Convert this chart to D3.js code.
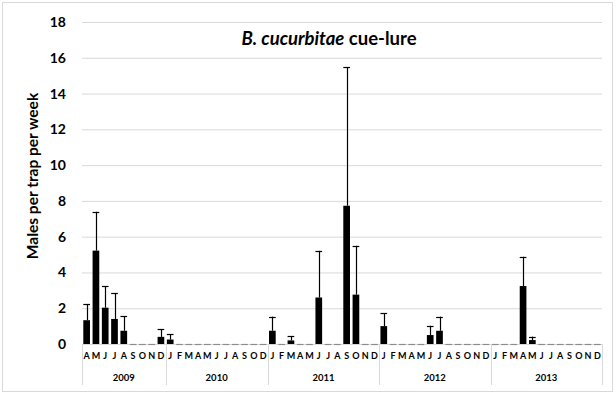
<!DOCTYPE html>
<html>
<head>
<meta charset="utf-8">
<script src="https://cdn.jsdelivr.net/npm/d3@7/dist/d3.min.js"></script>
<style>
  body { margin: 0; background: #fff; }
  svg text { font-family: Lato, "Open Sans", sans-serif; font-weight: bold; fill: #000; }
</style>
</head>
<body>
<svg id="chart"></svg>
<script>
// Categories: one year label per block, month initials per year
const years = ['2009', '2010', '2011', '2012', '2013'];
const monthsByYear = [
  ['A', 'M', 'J', 'J', 'A', 'S', 'O', 'N', 'D'],
  ['J', 'F', 'M', 'A', 'M', 'J', 'J', 'A', 'S', 'O', 'D'],
  ['J', 'F', 'M', 'A', 'M', 'J', 'J', 'A', 'S', 'O', 'N', 'D'],
  ['J', 'F', 'M', 'A', 'M', 'J', 'J', 'A', 'S', 'O', 'N', 'D'],
  ['J', 'F', 'M', 'A', 'M', 'J', 'J', 'A', 'S', 'O', 'N', 'D']
];

// Mean males per trap per week, per month (same order as above)
const meanValues = [
  1.33, 5.22, 2.03, 1.4, 0.74, 0, 0, 0, 0.4,
  0.25, 0, 0, 0, 0, 0, 0, 0, 0, 0, 0,
  0.74, 0, 0.2, 0, 0, 2.6, 0, 0, 7.73, 2.76, 0, 0,
  1.0, 0, 0, 0, 0, 0.5, 0.74, 0, 0, 0, 0, 0,
  0, 0, 0, 3.24, 0.22, 0, 0, 0, 0, 0, 0, 0
];

// Upper error bar length (standard error)
const errorValues = [
  0.9, 2.17, 1.21, 1.43, 0.81, 0, 0, 0, 0.42,
  0.29, 0, 0, 0, 0, 0, 0, 0, 0, 0, 0,
  0.79, 0, 0.22, 0, 0, 2.61, 0, 0, 7.73, 2.73, 0, 0,
  0.71, 0, 0, 0, 0, 0.52, 0.79, 0, 0, 0, 0, 0,
  0, 0, 0, 1.64, 0.19, 0, 0, 0, 0, 0, 0, 0
];

const yTicks = [0, 2, 4, 6, 8, 10, 12, 14, 16, 18];

const width = 616, height = 394;
const margin = {top: 22, right: 14, bottom: 50, left: 82};
const plotW = width - margin.left - margin.right;
const plotH = height - margin.top - margin.bottom;

// flatten categories
const cats = [];
years.forEach((yr, yi) => {
  monthsByYear[yi].forEach(m => cats.push({year: yr, month: m}));
});
const data = cats.map((c, i) => ({i: i, year: c.year, month: c.month, mean: meanValues[i], err: errorValues[i]}));

const svg = d3.select('#chart')
  .attr('width', width)
  .attr('height', height);

// chart border
svg.append('rect')
  .attr('x', 2.5).attr('y', 2.5)
  .attr('width', 610).attr('height', 389)
  .attr('fill', '#fff')
  .attr('stroke', '#d9d9d9');

const chart = svg.append('g')
  .attr('transform', `translate(${margin.left},${margin.top})`);

const x = d3.scaleBand()
  .domain(d3.range(data.length))
  .range([0, plotW])
  .paddingInner(0.28)
  .paddingOuter(0.14);

const y = d3.scaleLinear()
  .domain([0, 18])
  .range([plotH, 0]);

// gridlines + y labels
const yAxis = d3.axisLeft(y)
  .tickValues(yTicks)
  .tickSize(-plotW)
  .tickPadding(16);

const yAxisG = chart.append('g').call(yAxis);
yAxisG.select('.domain').remove();
yAxisG.selectAll('.tick line').attr('stroke', '#d9d9d9');
yAxisG.selectAll('.tick text').attr('font-size', 14).attr('font-family', null);

// title (sits over the grid)
svg.append('text')
  .attr('x', 329)
  .attr('y', 45)
  .attr('text-anchor', 'middle')
  .attr('font-size', 18.5)
  .call(t => {
    t.append('tspan').attr('font-style', 'italic').text('B. cucurbitae');
    t.append('tspan').text(' cue-lure');
  });

// y axis title
svg.append('text')
  .attr('transform', 'translate(32,176) rotate(-90)')
  .attr('text-anchor', 'middle')
  .attr('dominant-baseline', 'central')
  .attr('font-size', 15.5)
  .text('Males per trap per week');

// baseline
chart.append('line')
  .attr('x1', 0).attr('x2', plotW)
  .attr('y1', plotH + 0.5).attr('y2', plotH + 0.5)
  .attr('stroke', '#d9d9d9');

// bars
chart.selectAll('.bar')
  .data(data.filter(d => d.mean > 0))
  .join('rect')
  .attr('class', 'bar')
  .attr('x', d => x(d.i))
  .attr('width', x.bandwidth())
  .attr('y', d => y(d.mean))
  .attr('height', d => plotH - y(d.mean))
  .attr('fill', '#000');

// error bars (upper only)
const errG = chart.selectAll('.err')
  .data(data)
  .join('g')
  .attr('class', 'err');

errG.append('line')
  .attr('x1', d => Math.round(x(d.i) + x.bandwidth() / 2) + 0.5)
  .attr('x2', d => Math.round(x(d.i) + x.bandwidth() / 2) + 0.5)
  .attr('y1', d => y(d.mean))
  .attr('y2', d => y(d.mean + d.err))
  .attr('stroke', '#000')
  .attr('stroke-width', 1.2);

errG.append('line')
  .attr('x1', d => x(d.i))
  .attr('x2', d => x(d.i) + x.bandwidth())
  .attr('y1', d => Math.round(y(d.mean + d.err)) + 0.5)
  .attr('y2', d => Math.round(y(d.mean + d.err)) + 0.5)
  .attr('stroke', d => d.mean + d.err > 0 ? '#000' : '#8c8c8c')
  .attr('stroke-width', 1.2);

// month labels
chart.selectAll('.month')
  .data(data)
  .join('text')
  .attr('class', 'month')
  .attr('x', d => x(d.i) + x.bandwidth() / 2)
  .attr('y', plotH + 15)
  .attr('text-anchor', 'middle')
  .attr('font-size', 9)
  .text(d => d.month);

// year blocks: separators and labels
const step = x.step();
let start = 0;
const yearBlocks = years.map((yr, yi) => {
  const n = monthsByYear[yi].length;
  const b = {year: yr, x0: start * step, x1: (start + n) * step};
  start += n;
  return b;
});

const seps = [0].concat(yearBlocks.map(b => b.x1));
chart.selectAll('.sep')
  .data(seps)
  .join('line')
  .attr('class', 'sep')
  .attr('x1', d => Math.round(d) + 0.5)
  .attr('x2', d => Math.round(d) + 0.5)
  .attr('y1', plotH)
  .attr('y2', plotH + 41)
  .attr('stroke', '#d9d9d9');

chart.selectAll('.year')
  .data(yearBlocks)
  .join('text')
  .attr('class', 'year')
  .attr('x', d => (d.x0 + d.x1) / 2)
  .attr('y', plotH + 37)
  .attr('text-anchor', 'middle')
  .attr('font-size', 9.5)
  .text(d => d.year);
</script>
</body>
</html>
